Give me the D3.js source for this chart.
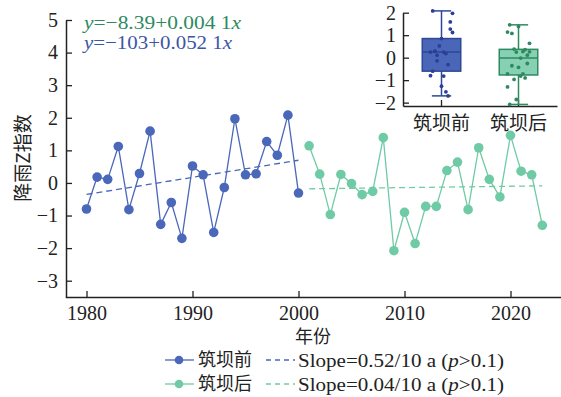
<!DOCTYPE html>
<html>
<head>
<meta charset="utf-8">
<title>降雨Z指数</title>
<script src="https://cdn.jsdelivr.net/npm/d3@7"></script>
<style>
  body { margin: 0; background: #fff; }
  svg text { font-family: "Liberation Serif", "Times New Roman", serif; fill: #222; }
  .cn { font-family: "Noto Sans CJK SC", sans-serif; }
</style>
</head>
<body>
<svg id="chart" width="561" height="397"></svg>
<script>
// data
var yearsBefore = d3.range(1980, 2001);
var zBefore = [-0.80, 0.18, 0.11, 1.12, -0.82, 0.29, 1.59, -1.27, -0.60, -1.70,
               0.52, 0.25, -1.52, -0.14, 1.97, 0.25, 0.28, 1.27, 0.85, 2.08, -0.31];
var yearsAfter = d3.range(2001, 2024);
var zAfter = [1.14, 0.27, -0.97, 0.26, -0.02, -0.36, -0.26, 1.39, -2.08, -0.90,
              -1.86, -0.72, -0.72, 0.38, 0.64, -0.82, 1.08, 0.11, -0.43, 1.46,
              0.36, 0.25, -1.30];
var groups = ["筑坝前", "筑坝后"];
var slopeLabels = ["Slope=0.52/10 a (", "Slope=0.04/10 a ("];
var eqBefore = ["−103+0.052 1"];
var eqAfter = ["−8.39+0.004 1"];
var yTicks = [-3, -2, -1, 0, 1, 2, 3, 4, 5];
var xTicks = [1980, 1990, 2000, 2010, 2020];
var insetTicks = [-2, -1, 0, 1, 2];

var blue = "#4a67ba", green = "#6fcba5";
var blueDark = "#2f4896", greenDark = "#2e8a5f";

var svg = d3.select("#chart");

var x = d3.scaleLinear().domain([1978, 2026]).range([65.3, 574.1]);
var y = d3.scaleLinear().domain([-3.5, 5]).range([297, 20]);

// axes
var xAxis = d3.axisBottom(x).tickValues(xTicks).tickFormat(d3.format("d")).tickSizeInner(-6).tickSizeOuter(0);
var gx = svg.append("g").attr("transform", "translate(0,297)").call(xAxis);
var yAxis = d3.axisLeft(y).tickValues(yTicks).tickFormat(function(d){ return d < 0 ? "−" + (-d) : d; }).tickSizeInner(-6).tickSizeOuter(0);
var gy = svg.append("g").attr("transform", "translate(66,0)").call(yAxis);
[gx, gy].forEach(function(g){
  g.select(".domain").attr("stroke", "#222").attr("stroke-width", 1.5);
  g.selectAll(".tick line").attr("stroke", "#222").attr("stroke-width", 1.3);
  g.selectAll(".tick text").attr("font-size", 20).attr("fill", "#222")
    .style("font-family", "Liberation Serif, serif");
});
gx.selectAll(".tick text").attr("dy", "0.95em").attr("y", 4);
gy.selectAll(".tick text").attr("x", -8);

svg.append("text").attr("class", "cn").attr("x", 313).attr("y", 343)
  .attr("text-anchor", "middle").attr("font-size", 18).text("年份");
svg.append("text").attr("class", "cn")
  .attr("transform", "translate(30,158) rotate(-90)")
  .attr("text-anchor", "middle").attr("font-size", 19)
  .text("降雨Z指数");

function fit(xs, ys) {
  var mx = d3.mean(xs), my = d3.mean(ys);
  var b = d3.sum(xs, function(v, i){ return (v - mx) * (ys[i] - my); }) /
          d3.sum(xs, function(v){ return (v - mx) * (v - mx); });
  return function(v){ return my + b * (v - mx); };
}

function series(years, vals, col) {
  var pts = years.map(function(d, i){ return [d, vals[i]]; });
  var f = fit(years, vals);
  var ends = [years[0], years[years.length - 1]];
  svg.append("path")
    .attr("d", d3.line().x(function(d){ return x(d); }).y(function(d){ return y(f(d)); })(ends))
    .attr("fill", "none").attr("stroke", col).attr("stroke-width", 1.3)
    .attr("stroke-dasharray", "6,4");
  svg.append("path")
    .attr("d", d3.line().x(function(d){ return x(d[0]); }).y(function(d){ return y(d[1]); })(pts))
    .attr("fill", "none").attr("stroke", col).attr("stroke-width", 1.3);
  svg.selectAll(null).data(pts).enter().append("circle")
    .attr("cx", function(d){ return x(d[0]); })
    .attr("cy", function(d){ return y(d[1]); })
    .attr("r", 4.8).attr("fill", col);
}
series(yearsBefore, zBefore, blue);
series(yearsAfter, zAfter, green);

// equations
function eq(ypos, body, col, len) {
  var t = svg.append("text").attr("x", 84).attr("y", ypos).attr("font-size", 19).style("fill", col)
    .attr("textLength", len).attr("lengthAdjust", "spacingAndGlyphs");
  t.append("tspan").attr("font-style", "italic").text("y");
  t.append("tspan").text("=" + body);
  t.append("tspan").attr("font-style", "italic").text("x");
}
eq(29, eqAfter[0], greenDark, 157);
eq(49, eqBefore[0], "#3d55a6", 148);

// inset box plot
var ix = d3.scaleBand().domain(groups).range([403, 557]).paddingInner(0.5).paddingOuter(0.25);
var iy = d3.scaleLinear().domain([-2.15, 2]).range([106, 12.7]);
svg.append("rect").attr("x", 403).attr("y", 8).attr("width", 158).attr("height", 98).attr("fill", "#fff");
var gix = svg.append("g").attr("transform", "translate(0,106)")
  .call(d3.axisBottom(ix).tickSizeInner(-6).tickSizeOuter(0));
var giy = svg.append("g").attr("transform", "translate(403,0)")
  .call(d3.axisLeft(iy).tickValues(insetTicks).tickFormat(function(d){ return d < 0 ? "−" + (-d) : d; }).tickSizeInner(-6).tickSizeOuter(0));
[gix, giy].forEach(function(g){
  g.select(".domain").attr("stroke", "#222").attr("stroke-width", 1.5);
  g.selectAll(".tick line").attr("stroke", "#222").attr("stroke-width", 1.3);
  g.selectAll(".tick text").attr("font-size", 20).attr("fill", "#222");
});
gix.selectAll(".tick text").attr("class", "cn").attr("font-size", 19).attr("y", 6).attr("dy", "0.95em");
giy.selectAll(".tick text").attr("x", -7).style("font-family", "Liberation Serif, serif");

var boxData = [zBefore, zAfter];
var boxFill = ["#4a66b8", "#86d0b4"], boxEdge = [blueDark, greenDark], dotCol = ["#2b3f99", "#2e8a5e"];
groups.forEach(function(g, k) {
  var s = boxData[k].slice().sort(d3.ascending);
  var q1 = d3.quantile(s, 0.25), med = d3.quantile(s, 0.5), q3 = d3.quantile(s, 0.75);
  var lo = s[0], hi = s[s.length - 1];
  var cx = ix(g) + ix.bandwidth() / 2, w = ix.bandwidth();
  var gg = svg.append("g");
  gg.append("line").attr("x1", cx).attr("x2", cx).attr("y1", iy(hi)).attr("y2", iy(lo))
    .attr("stroke", boxEdge[k]).attr("stroke-width", 1.5);
  [lo, hi].forEach(function(v){
    gg.append("line").attr("x1", cx - w / 4).attr("x2", cx + w / 4).attr("y1", iy(v)).attr("y2", iy(v))
      .attr("stroke", boxEdge[k]).attr("stroke-width", 1.5);
  });
  gg.append("rect").attr("x", ix(g)).attr("width", w).attr("y", iy(q3)).attr("height", iy(q1) - iy(q3))
    .attr("fill", boxFill[k]).attr("stroke", boxEdge[k]).attr("stroke-width", 1.5);
  gg.append("line").attr("x1", ix(g)).attr("x2", ix(g) + w).attr("y1", iy(med)).attr("y2", iy(med))
    .attr("stroke", boxEdge[k]).attr("stroke-width", 1.5);
  gg.selectAll(null).data(boxData[k]).enter().append("circle")
    .attr("cx", function(d, i){ return cx + (((i * 7) % 11) / 10 - 0.5) * 22; })
    .attr("cy", function(d){ return iy(d); })
    .attr("r", 1.9).attr("fill", dotCol[k]);
});

// legend
var legend = svg.append("g");
var rows = [[blue, 360], [green, 384]];
rows.forEach(function(r, k) {
  var col = r[0], yy = r[1];
  legend.append("line").attr("x1", 165).attr("x2", 194).attr("y1", yy).attr("y2", yy)
    .attr("stroke", col).attr("stroke-width", 1.3);
  legend.append("circle").attr("cx", 179).attr("cy", yy).attr("r", 4.3).attr("fill", col);
  legend.append("text").attr("class", "cn").attr("x", 198).attr("y", yy + 6).attr("font-size", 18).text(groups[k]);
  legend.append("line").attr("x1", 266).attr("x2", 295).attr("y1", yy).attr("y2", yy)
    .attr("stroke", col).attr("stroke-width", 1.3).attr("stroke-dasharray", "5,4");
  var t = legend.append("text").attr("x", 298).attr("y", yy + 7).attr("font-size", 19)
    .attr("textLength", 206).attr("lengthAdjust", "spacingAndGlyphs");
  t.append("tspan").text(slopeLabels[k]);
  t.append("tspan").attr("font-style", "italic").text("p");
  t.append("tspan").text(">0.1)");
});
</script>
</body>
</html>
